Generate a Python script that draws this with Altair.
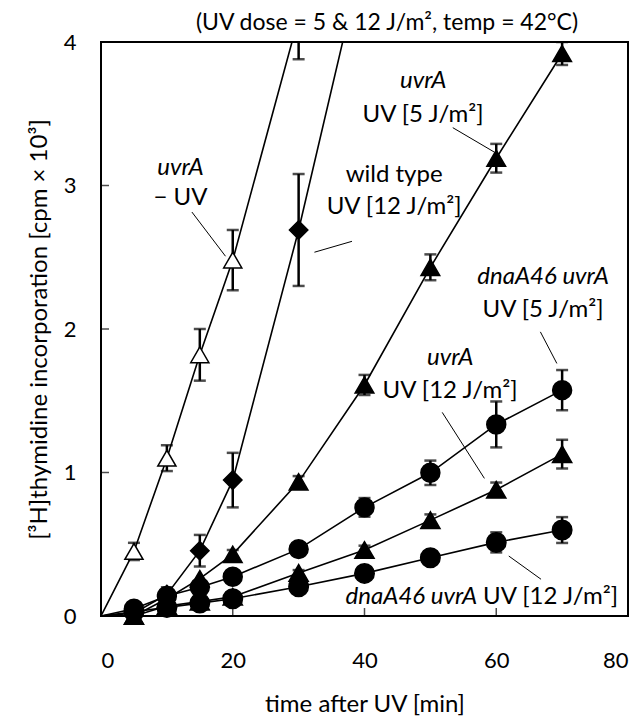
import altair as alt
import pandas as pd

# ---------------- data ----------------
time = [0, 5, 10, 15, 20, 30, 40, 50, 60, 70]

uvrA_noUV = [0, 0.45, 1.10, 1.82, 2.48, 4.17]
uvrA_noUV_err = [None, 0.06, 0.09, 0.18, 0.21, 0.29]

wt_uv12 = [0, 0.02, 0.15, 0.455, 0.947, 2.69, 4.65]
wt_uv12_err = [None, None, 0.05, 0.11, 0.19, 0.39, None]

uvrA_uv5 = [0, 0.0, 0.12, 0.26, 0.43, 0.935, 1.61, 2.43, 3.19, 3.92]
uvrA_uv5_err = [None, None, None, None, 0.03, 0.04, 0.07, 0.09, 0.10, 0.08]

dnaA_uv5 = [0, 0.05, 0.14, 0.20, 0.274, 0.466, 0.757, 0.998, 1.335, 1.574]
dnaA_uv5_err = [None, None, None, None, None, 0.03, 0.065, 0.085, 0.16, 0.14]

uvrA_uv12 = [0, 0.0, 0.07, 0.10, 0.134, 0.30, 0.46, 0.668, 0.88, 1.128]
uvrA_uv12_err = [None, None, None, None, None, 0.02, 0.03, 0.04, 0.05, 0.10]

dnaA_uv12 = [0, 0.03, 0.06, 0.09, 0.12, 0.204, 0.297, 0.406, 0.513, 0.599]
dnaA_uv12_err = [None, None, None, None, None, 0.02, 0.02, 0.03, 0.07, 0.09]

series_names = ["uvrA -UV", "wt UV12", "uvrA UV5", "dnaA UV5", "uvrA UV12", "dnaA UV12"]
series_values = [uvrA_noUV, wt_uv12, uvrA_uv5, dnaA_uv5, uvrA_uv12, dnaA_uv12]
series_errs = [uvrA_noUV_err, wt_uv12_err, uvrA_uv5_err, dnaA_uv5_err, uvrA_uv12_err, dnaA_uv12_err]
series_shapes = ["triangle-up", "diamond", "triangle-up", "circle", "triangle-up", "circle"]
series_fills = ["white", "black", "black", "black", "black", "black"]
series_sizes = [330, 380, 330, 300, 330, 300]

x_ticks = [20, 40, 60]
y_ticks = [1, 2, 3]

title_text = "(UV dose = 5 & 12 J/m\u00b2, temp = 42\u00b0C)"
x_title = "time after UV [min]"
y_title = "[\u00b3H]thymidine incorporation [cpm \u00d7 10\u00b3]"

# annotation labels (data coordinates)
ann_text = ["uvrA", "\u2212 UV", "wild type", "UV [12 J/m\u00b2]", "uvrA", "UV [5 J/m\u00b2]",
            "dnaA46 uvrA", "UV [5 J/m\u00b2]", "uvrA", "UV [12 J/m\u00b2]",
            "dnaA46 uvrA", "UV [12 J/m\u00b2]"]
ann_x = [12.06, 12.06, 44.5, 44.5, 48.9, 48.9, 67.1, 67.1, 53.0, 53.0, 57.1, 58.0]
ann_y = [3.12, 2.91, 3.07, 2.85, 3.73, 3.49, 2.36, 2.13, 1.80, 1.57, 0.13, 0.13]
ann_italic = [True, False, False, False, True, False, True, False, True, False, True, False]
ann_align = ["center"] * 10 + ["right", "left"]

# leader lines (data coordinates)
lead_x1 = [13.8, 32.4, 53.4, 66.7, 51.8, 61.9]
lead_y1 = [2.815, 2.535, 3.403, 1.980, 1.419, 0.418]
lead_x2 = [18.9, 38.1, 59.7, 69.2, 58.2, 66.8]
lead_y2 = [2.507, 2.611, 3.233, 1.760, 0.959, 0.256]

# ---------------- tables ----------------
rows = []
for name, vals, errs in zip(series_names, series_values, series_errs):
    for t, v, e in zip(time, vals, errs):
        rows.append({"series": name, "t": t, "v": v,
                     "lo": None if e is None else v - e,
                     "hi": None if e is None else v + e})
df = pd.DataFrame(rows)
pts = df[(df["t"] > 0) & (df["v"] <= 4)]
errdf = df[df["lo"].notna()]

ann = pd.DataFrame({"label": ann_text, "px": ann_x, "py": ann_y,
                    "ital": ann_italic, "anchor": ann_align})
lead = pd.DataFrame({"lx": lead_x1, "ly": lead_y1, "lx2": lead_x2, "ly2": lead_y2})

FONT = "Lato"
FS = 24
W, H = 527, 574

xs = alt.Scale(domain=[0, 80], nice=False)
ys = alt.Scale(domain=[0, 4], nice=False)

X = alt.X("t:Q", scale=xs, axis=alt.Axis(values=[0, 20, 40, 60, 80], title=x_title, format="d"))
Y = alt.Y("v:Q", scale=ys, axis=alt.Axis(values=[0, 1, 2, 3, 4], title=y_title, format="d"))

lines = alt.Chart(df).mark_line(color="black", strokeWidth=1.6, clip=True).encode(
    x=X, y=Y, detail="series:N")

bars = alt.Chart(errdf).mark_rule(color="black", strokeWidth=2.5, clip=True).encode(
    x=alt.X("t:Q", scale=xs), y=alt.Y("lo:Q", scale=ys), y2="hi:Q")
cap_lo = alt.Chart(errdf).mark_tick(color="black", orient="horizontal", size=12,
                                    thickness=2.5, clip=True).encode(
    x=alt.X("t:Q", scale=xs), y=alt.Y("lo:Q", scale=ys))
cap_hi = alt.Chart(errdf).mark_tick(color="black", orient="horizontal", size=12,
                                    thickness=2.5, clip=True).encode(
    x=alt.X("t:Q", scale=xs), y=alt.Y("hi:Q", scale=ys))

points = alt.Chart(pts).mark_point(filled=True, stroke="black", strokeWidth=1.5,
                                   opacity=1, fillOpacity=1, strokeOpacity=1).encode(
    x=alt.X("t:Q", scale=xs), y=alt.Y("v:Q", scale=ys),
    shape=alt.Shape("series:N", scale=alt.Scale(domain=series_names, range=series_shapes), legend=None),
    fill=alt.Fill("series:N", scale=alt.Scale(domain=series_names, range=series_fills), legend=None),
    size=alt.Size("series:N", scale=alt.Scale(domain=series_names, range=series_sizes), legend=None),
)

xt = alt.Chart(pd.DataFrame({"t": x_ticks})).mark_tick(
    color="black", orient="vertical", size=8, thickness=1.5).encode(
    x=alt.X("t:Q", scale=xs), y=alt.value(H - 4))
yt = alt.Chart(pd.DataFrame({"v": y_ticks})).mark_tick(
    color="black", orient="horizontal", size=8, thickness=1.5).encode(
    y=alt.Y("v:Q", scale=ys), x=alt.value(4))

leaders = alt.Chart(lead).mark_rule(color="black", strokeWidth=1).encode(
    x=alt.X("lx:Q", scale=xs), y=alt.Y("ly:Q", scale=ys), x2="lx2:Q", y2="ly2:Q")


def text_layer(sub, italic, align):
    return alt.Chart(sub).mark_text(font=FONT, fontSize=FS, color="black",
                                    fontStyle="italic" if italic else "normal",
                                    align=align, baseline="middle").encode(
        x=alt.X("px:Q", scale=xs), y=alt.Y("py:Q", scale=ys), text="label:N")


texts = []
for it in (True, False):
    for al in ("center", "left", "right"):
        sub = ann[(ann["ital"] == it) & (ann["anchor"] == al)]
        if len(sub):
            texts.append(text_layer(sub, it, al))

top = alt.Chart(pd.DataFrame({"label": [title_text]})).mark_text(
    font=FONT, fontSize=23, color="black", align="center", baseline="middle").encode(
    x=alt.value(286), y=alt.value(-19), text="label:N")

chart = alt.layer(lines, bars, cap_lo, cap_hi, leaders, points, xt, yt, *texts, top).properties(
    width=W, height=H,
    autosize=alt.AutoSizeParams(type="none"),
    padding={"left": 93, "top": 34, "right": 4, "bottom": 100},
).configure_view(stroke="black", strokeWidth=2).configure_axis(
    domain=False, ticks=False, tickSize=0, grid=False,
    labelFont=FONT, labelFontSize=22, labelColor="black",
    titleFont=FONT, titleFontSize=FS, titleColor="black", titleFontWeight="normal",
).configure_axisX(labelPadding=34, titlePadding=21, labelAngle=0).configure_axisY(
    labelPadding=25, titlePadding=12)

chart.save("out.html", embed_options={"renderer": "svg", "actions": False})
